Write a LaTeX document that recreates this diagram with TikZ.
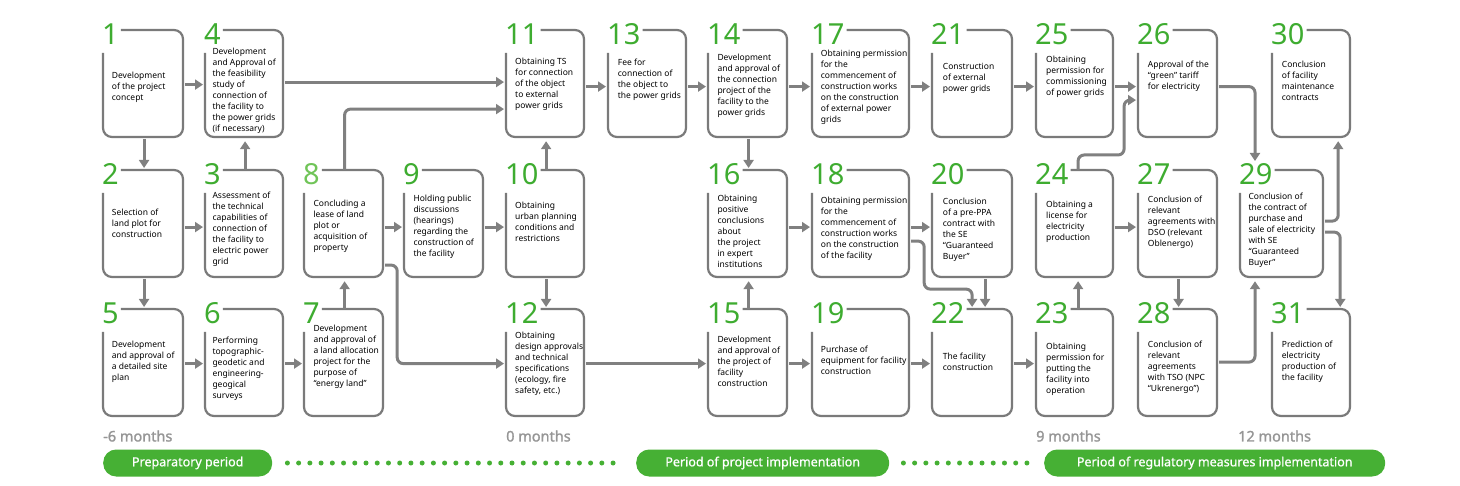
\documentclass[tikz,border=0pt]{standalone}
\usepackage{fontspec}
\setmainfont{Noto Sans}
\newfontfamily\semib{Noto Sans}[FakeBold=1.6]
\newfontfamily\medf{Noto Sans}[FakeBold=0.8]
\usetikzlibrary{arrows.meta}
\definecolor{gr}{RGB}{62,172,48}
\definecolor{grlight}{RGB}{112,196,88}
\definecolor{ln}{RGB}{128,128,128}
\definecolor{bxc}{RGB}{122,122,122}
\definecolor{mon}{RGB}{150,150,150}
\definecolor{pillc}{RGB}{70,176,52}
\tikzset{
  bx/.style={draw=none, minimum height=107pt, inner sep=0pt, outer sep=1.1pt},
  boxline/.style={draw=bxc, line width=2.2pt, rounded corners=9pt},
  num/.style={anchor=base west, text=gr, inner xsep=2pt, inner ysep=0pt, text height=22pt, text depth=0pt, font=\fontsize{29}{29}\selectfont},
  txt/.style={anchor=north west, align=left, inner sep=0pt, text=black, font=\fontsize{8.5}{11}\selectfont},
  arr/.style={draw=ln, line width=3pt, -{Triangle[length=8pt,width=10pt]}, shorten >=2pt},
  rc/.style={rounded corners=6pt},
  pill/.style={fill=pillc, text=white, rounded corners=13pt, minimum height=27pt, inner sep=0pt, anchor=west, font=\medf\fontsize{12.5}{14}\selectfont},
  mlab/.style={anchor=west, inner sep=0pt, text=mon, font=\semib\fontsize{14.5}{16}\selectfont},
  dotline/.style={draw=pillc, line width=5pt, line cap=round, dash pattern=on 0pt off 11.23pt}
}
% #1 name, #2 number, #3 x, #4 y, #5 width, #6 text x, #7 first line y, #8 text
\newcommand\flowbox[8]{%
  \node[bx, minimum width=#5pt, anchor=north west] (#1) at (#3,#4) {};
  \node[num] (#1n) at (#3-3,#4+15) {#2};
  \draw[boxline] (#3,#4+23) -- (#3,#4+107) -- (#3+#5,#4+107) -- (#3+#5,#4) -- (#1n.east |- 0,#4);
  \node[txt] (#1t) at (#6,#7-4.5) {#8};
}
\begin{document}
\begin{tikzpicture}[x=1pt,y=-1pt]
\useasboundingbox (0,0) rectangle (1460,486);
% column 1
\flowbox{b1}{1}{103}{30}{80}{111.7}{76.7}{Development\\of the project\\concept}
\flowbox{b2}{2}{103}{170}{80}{111.7}{213.3}{Selection of\\land plot for\\construction}
\flowbox{b5}{5}{103}{309}{80}{111.7}{345.7}{Development\\and approval of\\a detailed site\\plan}
% column 2
\flowbox{b4}{4}{205}{30}{78}{212.3}{52.3}{Development\\and Approval of\\the feasibility\\study of\\connection of\\the facility to\\the power grids\\(if necessary)}
\flowbox{b3}{3}{205}{170}{78}{212.3}{196.7}{Assessment of\\the technical\\capabilities of\\connection of\\the facility to\\electric power\\grid}
\flowbox{b6}{6}{205}{309}{78}{212.3}{341}{Performing\\topographic-\\geodetic and\\engineering-\\geogical\\surveys}
% column 3
\flowbox{b8}{\color{grlight}8}{304}{170}{79}{313.3}{204.3}{Concluding a\\lease of land\\plot or\\acquisition of\\property}
\flowbox{b7}{7}{304}{309}{79}{313.3}{329.5}{Development\\and approval of\\a land allocation\\project for the\\purpose of\\“energy land”}
% column 4
\flowbox{b9}{9}{404}{170}{79}{413.3}{199}{Holding public\\discussions\\(hearings)\\regarding the\\construction of\\the facility}
% column 5
\flowbox{b11}{11}{506}{30}{78}{515}{62.7}{Obtaining TS\\for connection\\of the object\\to external\\power grids}
\flowbox{b10}{10}{506}{170}{78}{515}{206.7}{Obtaining\\urban planning\\conditions and\\restrictions}
\flowbox{b12}{12}{506}{309}{78}{515}{336}{Obtaining\\design approvals\\and technical\\specifications\\(ecology, fire\\safety, etc.)}
% column 6
\flowbox{b13}{13}{608}{30}{78}{617.7}{63.3}{Fee for\\connection of\\the object to\\the power grids}
% column 7
\flowbox{b14}{14}{708}{30}{79}{717.3}{58.3}{Development\\and approval of\\the connection\\project of the\\facility to the\\power grids}
\flowbox{b16}{16}{708}{170}{79}{717.3}{199}{Obtaining\\positive\\conclusions\\about\\the project\\in expert\\institutions}
\flowbox{b15}{15}{708}{309}{79}{717.3}{340}{Development\\and approval of\\the project of\\facility\\construction}
% column 8
\flowbox{b17}{17}{812}{30}{97}{820.7}{54.3}{Obtaining permission\\for the\\commencement of\\construction works\\on the construction\\of external power\\grids}
\flowbox{b18}{18}{812}{170}{97}{820.7}{201.7}{Obtaining permission\\for the\\commencement of\\construction works\\on the construction\\of the facility}
\flowbox{b19}{19}{812}{309}{97}{820.7}{350}{Purchase of\\equipment for facility\\construction}
% column 9
\flowbox{b21}{21}{932}{30}{80}{942.7}{67.3}{Construction\\of external\\power grids}
\flowbox{b20}{20}{932}{170}{80}{942.7}{202.3}{Conclusion\\of a pre-PPA\\contract with\\the SE\\“Guaranteed\\Buyer”}
\flowbox{b22}{22}{932}{309}{80}{942.7}{357.3}{The facility\\construction}
% column 10
\flowbox{b25}{25}{1036}{30}{77}{1046}{60.7}{Obtaining\\permission for\\commissioning\\of power grids}
\flowbox{b24}{24}{1036}{170}{77}{1046}{205.7}{Obtaining a\\license for\\electricity\\production}
\flowbox{b23}{23}{1036}{309}{77}{1046}{347.3}{Obtaining\\permission for\\putting the\\facility into\\operation}
% column 11
\flowbox{b26}{26}{1138}{30}{79}{1147.7}{65.7}{Approval of the\\“green” tariff\\for electricity}
\flowbox{b27}{27}{1138}{170}{79}{1147.7}{200.7}{Conclusion of\\relevant\\agreements with\\DSO (relevant\\Oblenergo)}
\flowbox{b28}{28}{1138}{309}{79}{1147.7}{345.7}{Conclusion of\\relevant\\agreements\\with TSO (NPC\\“Ukrenergo”)}
% column 12/13
\flowbox{b29}{29}{1240}{170}{83}{1248.3}{197}{Conclusion of\\the contract of\\purchase and\\sale of electricity\\with SE\\“Guaranteed\\Buyer”}
\flowbox{b30}{30}{1272}{30}{78}{1281.7}{65.7}{Conclusion\\of facility\\maintenance\\contracts}
\flowbox{b31}{31}{1272}{309}{78}{1281.7}{345.7}{Prediction of\\electricity\\production of\\the facility}
\coordinate (t29) at ([xshift=15pt,yshift=7pt]b29.north west);
% connectors
\draw[arr] (b1.east) -- (b4.west);
\draw[arr] (b1.south) -- (b2.north);
\draw[arr] ([yshift=-2.5pt]b2.east) -- ([yshift=-2.5pt]b3.west);
\draw[arr] (b2.south) -- (b5.north);
\draw[arr] (b3.north) -- (b4.south);
\draw[arr] (b5.east) -- (b6.west);
\draw[arr] (b6.east) -- (b7.west);
\draw[arr] (b7.north) -- (b8.south);
\draw[arr] ([yshift=-2.5pt]b8.east) -- ([yshift=-2.5pt]b9.west);
\draw[arr] ([yshift=-2.5pt]b9.east) -- ([yshift=-2.5pt]b10.west);
\draw[arr] (b10.north) -- (b11.south);
\draw[arr] (b10.south) -- (b12.north);
\draw[arr] ([yshift=2.5pt]b4.east) -- ([yshift=2.5pt]b11.west);
\draw[arr,rc] (b8.north) |- ([yshift=-24.5pt]b11.west);
\draw[arr,rc] ([yshift=-40.5pt]b8.east) -- ++(12,0) |- (b12.west);
\draw[arr] ([yshift=-2pt]b11.east) -- ([yshift=-2pt]b13.west);
\draw[arr] ([yshift=-2pt]b13.east) -- ([yshift=-2pt]b14.west);
\draw[arr] ([yshift=-2pt]b14.east) -- ([yshift=-2pt]b17.west);
\draw[arr] (b14.south) -- (b16.north);
\draw[arr] (b12.east) -- (b15.west);
\draw[arr] (b15.north) -- (b16.south);
\draw[arr] (b15.east) -- (b19.west);
\draw[arr] ([yshift=-2.5pt]b16.east) -- ([yshift=-2.5pt]b18.west);
\draw[arr] ([yshift=-2pt]b17.east) -- ([yshift=-2pt]b21.west);
\draw[arr] ([yshift=-2pt]b21.east) -- ([yshift=-2pt]b25.west);
\draw[arr] ([yshift=-2.5pt]b18.east) -- ([yshift=-2.5pt]b20.west);
\draw[arr,rc] ([yshift=-16.5pt]b18.east) -- ++(13,0) -- ++(0,48) -| ([xshift=-1pt]b22.north);
\draw[arr] ([xshift=12pt]b20.south) -- ([xshift=12pt]b22.north);
\draw[arr] (b19.east) -- (b22.west);
\draw[arr] (b22.east) -- (b23.west);
\draw[arr] ([xshift=2.5pt]b23.north) -- ([xshift=2.5pt]b24.south);
\draw[arr,rc] ([xshift=2.5pt]b24.north) -- ++(0,-15) -- ++(46,0) |- ([yshift=-15.5pt]b26.west);
\draw[arr] ([yshift=-2pt]b25.east) -- ([yshift=-2pt]b26.west);
\draw[arr] ([yshift=-2.5pt]b24.east) -- ([yshift=-2.5pt]b27.west);
\draw[arr] (b27.south) -- (b28.north);
\draw[arr,rc] ([yshift=-2pt]b26.east) -| (t29);
\draw[arr,rc] ([yshift=1.5pt]b28.east) -| ([xshift=15pt]b29.south west);
\draw[arr,rc] ([yshift=3.5pt]b29.east) -| ([xshift=-14pt]b30.south east);
\draw[arr,rc] ([yshift=-7.5pt]b29.east) -| ([xshift=-12pt]b31.north east);
% timeline
\node[mlab] (m1) at (103,436) {-6 months};
\node[mlab] (m2) at (506,436) {0 months};
\node[mlab] (m3) at (1036,436) {9 months};
\node[mlab] (m4) at (1238,436) {12 months};
\node[pill, minimum width=169pt] (p1) at (103,463) {Preparatory period};
\node[pill, minimum width=253pt] (p2) at (636,463) {Period of project implementation};
\node[pill, minimum width=341pt] (p3) at (1044,463) {Period of regulatory measures implementation};
\draw[dotline] ([xshift=15pt]p1.east) -- ([xshift=-12pt]p2.west);
\draw[dotline] ([xshift=14pt]p2.east) -- ([xshift=-14pt]p3.west);
\end{tikzpicture}
\end{document}
